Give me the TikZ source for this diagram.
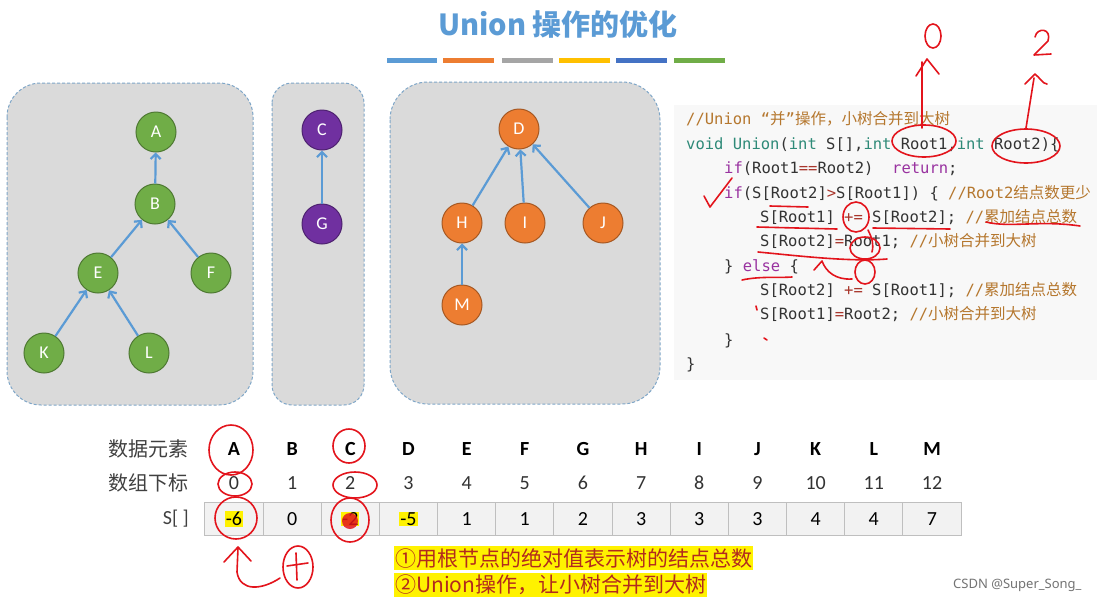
\documentclass[tikz,border=0pt]{standalone}
\usepackage{fontspec}
\usetikzlibrary{arrows.meta}
\setmainfont{Carlito}
\newfontfamily\cjk{Noto Sans CJK SC}
\newfontfamily\codefont{DejaVu Sans Mono}
\newfontfamily\markfont{Noto Sans}
\newcommand\zh[1]{{\cjk #1}}
\newcommand\hl[1]{{\setlength{\fboxsep}{1pt}\colorbox{yellow}{#1}}}

\definecolor{titleblue}{HTML}{5B9BD5}
\definecolor{barorange}{HTML}{ED7D31}
\definecolor{bargrey}{HTML}{A5A5A5}
\definecolor{baryellow}{HTML}{FFC000}
\definecolor{bardarkblue}{HTML}{4472C4}
\definecolor{bargreen}{HTML}{70AD47}
\definecolor{panelfill}{HTML}{DADADA}
\definecolor{paneledge}{HTML}{7EA6C8}
\definecolor{treegreen}{HTML}{70AD47}
\definecolor{treepurple}{HTML}{7030A0}
\definecolor{treeorange}{HTML}{ED7D31}
\definecolor{codebg}{HTML}{F8F8F8}
\definecolor{codetext}{HTML}{333333}
\definecolor{cmt}{HTML}{B5772E}
\definecolor{kw}{HTML}{9932A0}
\definecolor{ty}{HTML}{2E8A78}
\definecolor{op}{HTML}{A8352B}
\definecolor{cellfill}{HTML}{F2F2F2}
\definecolor{celledge}{HTML}{BFBFBF}
\definecolor{notered}{HTML}{B22A1E}
\definecolor{inkred}{HTML}{E3141C}

\begin{document}
\begin{tikzpicture}[x=1pt, y=-1pt, >=Stealth,
  panel/.style={draw=paneledge, fill=panelfill, line width=1pt, dash pattern=on 3pt off 2pt},
  tnode/.style={circle, draw=#1!70!black, fill=#1, line width=1pt, minimum size=40pt, inner sep=0pt, text=white, font=\fontsize{18}{18}\selectfont},
  link/.style={-{Straight Barb[length=5pt,width=10pt]}, line width=2.2pt, titleblue},
  code/.style={anchor=base west, inner sep=0pt, text=codetext, font=\codefont\fontsize{15.5}{15.5}\selectfont},
  rowlabel/.style={anchor=east, inner sep=0pt, text=black!75, font=\cjk\fontsize{20}{20}\selectfont},
  head/.style={inner sep=0pt, font=\bfseries\fontsize{20}{20}\selectfont},
  idx/.style={inner sep=0pt, text=black!80, font=\fontsize{20}{20}\selectfont},
  cell/.style={draw=celledge, fill=cellfill, line width=1pt, minimum width=58.2pt, minimum height=33pt, inner sep=0pt, font=\fontsize{20}{20}\selectfont},
  note/.style={anchor=west, fill=yellow, inner xsep=1pt, inner ysep=2pt, text=notered, font=\cjk\fontsize{21}{21}\selectfont},
  scribble/.style={draw=inkred, line width=1.6pt, line cap=round, line join=round}]
\useasboundingbox (0,0) rectangle (1097,603);
\fill[white] (0,0) rectangle (1097,603);

% title and colour bars
\node[text=titleblue, font=\cjk\bfseries\fontsize{29}{29}\selectfont] (title) at (558,24) {Union 操作的优化};
\fill[titleblue] (387,58) rectangle (437,63);
\fill[barorange] (443,58) rectangle (494,63);
\fill[bargrey] (502,58) rectangle (553,63);
\fill[baryellow] (559,58) rectangle (610,63);
\fill[bardarkblue] (616,58) rectangle (667,63);
\fill[bargreen] (674,58) rectangle (725,63);

% the three trees
\draw[panel, rounded corners=34pt] (7,83) rectangle (253,405);
\draw[panel, rounded corners=20pt] (272,83) rectangle (364,405);
\draw[panel, rounded corners=38pt] (390,82) rectangle (660,404);

\node[tnode=treegreen] (A) at (156,132) {A};
\node[tnode=treegreen] (B) at (155,204) {B};
\node[tnode=treegreen] (E) at (98,273) {E};
\node[tnode=treegreen] (F) at (211,273) {F};
\node[tnode=treegreen] (K) at (44,353) {K};
\node[tnode=treegreen] (L) at (149,353) {L};
\node[tnode=treepurple] (C) at (322,130) {C};
\node[tnode=treepurple] (G) at (322,224) {G};
\node[tnode=treeorange] (D) at (519,129) {D};
\node[tnode=treeorange] (H) at (462,223) {H};
\node[tnode=treeorange] (I) at (525,223) {I};
\node[tnode=treeorange] (J) at (603,223) {J};
\node[tnode=treeorange] (M) at (462,305) {M};

\draw[link] (B) -- (A);
\draw[link] (E) -- (B);
\draw[link] (F) -- (B);
\draw[link] (K) -- (E);
\draw[link] (L) -- (E);
\draw[link] (G) -- (C);
\draw[link] (H) -- (D);
\draw[link] (I) -- (D);
\draw[link] (J) -- (D);
\draw[link] (M) -- (H);

% code
\fill[codebg] (674,105) rectangle (1097,380);
\node[code] (c1) at (686,124) {\color{cmt}//Union “\zh{并}”\zh{操作，小树合并到大树}};
\node[code] (c2) at (686,149) {\textcolor{ty}{void} \textcolor{ty}{Union}(\textcolor{ty}{int} S[],\textcolor{ty}{int} Root1,\textcolor{ty}{int} Root2)\{};
\node[code] (c3) at (724,173) {\textcolor{kw}{if}(Root1\textcolor{op}{==}Root2)\ \ \textcolor{kw}{return};};
\node[code] (c4) at (724,198) {\textcolor{kw}{if}(S[Root2]\textcolor{op}{>}S[Root1]) \{ \textcolor{cmt}{//Root2\zh{结点数更少}}};
\node[code] (c5) at (760,222) {S[Root1] \textcolor{op}{+=} S[Root2]; \textcolor{cmt}{//\zh{累加结点总数}}};
\node[code] (c6) at (760,246) {S[Root2]\textcolor{op}{=}Root1; \textcolor{cmt}{//\zh{小树合并到大树}}};
\node[code] (c7) at (724,271) {\} \textcolor{kw}{else} \{};
\node[code] (c8) at (760,295) {S[Root2] \textcolor{op}{+=} S[Root1]; \textcolor{cmt}{//\zh{累加结点总数}}};
\node[code] (c9) at (760,319) {S[Root1]\textcolor{op}{=}Root2; \textcolor{cmt}{//\zh{小树合并到大树}}};
\node[code] (c10) at (724,345) {\}};
\node[code] (c11) at (686,369) {\}};

% table
\node[rowlabel] (lab1) at (189,449) {数据元素};
\node[rowlabel] (lab2) at (189,483) {数组下标};
\node[rowlabel, font=\fontsize{20}{20}\selectfont] (lab3) at (189,519) {S[ ]};
\node[head] (hA) at (234,449) {A}; \node[idx] (i0) at (234,483) {0}; \node[cell] (s0) at (234,519) {\hl{-6}};
\node[head] (hB) at (292.2,449) {B}; \node[idx] (i1) at (292.2,483) {1}; \node[cell] (s1) at (292.2,519) {0};
\node[head] (hC) at (350.3,449) {C}; \node[idx] (i2) at (350.3,483) {2}; \node[cell] (s2) at (350.3,519) {\hl{-2}};
\node[head] (hD) at (408.5,449) {D}; \node[idx] (i3) at (408.5,483) {3}; \node[cell] (s3) at (408.5,519) {\hl{-5}};
\node[head] (hE) at (466.7,449) {E}; \node[idx] (i4) at (466.7,483) {4}; \node[cell] (s4) at (466.7,519) {1};
\node[head] (hF) at (524.8,449) {F}; \node[idx] (i5) at (524.8,483) {5}; \node[cell] (s5) at (524.8,519) {1};
\node[head] (hG) at (583,449) {G}; \node[idx] (i6) at (583,483) {6}; \node[cell] (s6) at (583,519) {2};
\node[head] (hH) at (641.2,449) {H}; \node[idx] (i7) at (641.2,483) {7}; \node[cell] (s7) at (641.2,519) {3};
\node[head] (hI) at (699.3,449) {I}; \node[idx] (i8) at (699.3,483) {8}; \node[cell] (s8) at (699.3,519) {3};
\node[head] (hJ) at (757.5,449) {J}; \node[idx] (i9) at (757.5,483) {9}; \node[cell] (s9) at (757.5,519) {3};
\node[head] (hK) at (815.7,449) {K}; \node[idx] (i10) at (815.7,483) {10}; \node[cell] (s10) at (815.7,519) {4};
\node[head] (hL) at (873.8,449) {L}; \node[idx] (i11) at (873.8,483) {11}; \node[cell] (s11) at (873.8,519) {4};
\node[head] (hM) at (932,449) {M}; \node[idx] (i12) at (932,483) {12}; \node[cell] (s12) at (932,519) {7};

% notes
\node[note] (n1) at (394,558) {①用根节点的绝对值表示树的结点总数};
\node[note] (n2) at (394,585) {②Union操作，让小树合并到大树};
\node[anchor=east, text=black!55, font=\markfont\fontsize{13}{13}\selectfont] (mark) at (1085,585) {CSDN @Super\_Song\_};

% handwriting on the code
\draw[scribble] (924,141) ellipse [x radius=32, y radius=16];
\draw[scribble] (1026,146) ellipse [x radius=34, y radius=17];
\draw[scribble] (922,128) -- (922,62);
\draw[scribble] (916,76) -- (927,59) -- (939,74);
\draw[scribble] (933,36) ellipse [x radius=8, y radius=12];
\draw[scribble] (1026,128) -- (1034,78);
\draw[scribble] (1025,84) -- (1035,74) .. controls (1040,78) and (1043,84) .. (1047,84);
\draw[scribble] (1035,37) .. controls (1037,27) and (1052,28) .. (1048,41) -- (1034,55) -- (1051,54);
\draw[scribble] (704,196) -- (710,207) -- (732,178);
\draw[scribble] (770,206) -- (808,207);
\draw[scribble] (757,227) -- (837,229);
\draw[scribble] (873,228) -- (950,229);
\draw[scribble] (986,222) .. controls (1010,228) and (1040,220) .. (1080,226);
\draw[scribble] (856,217) ellipse [x radius=13, y radius=15];
\draw[scribble] (868,230) .. controls (872,238) and (874,244) .. (872,252);
\draw[scribble] (865,248) ellipse [x radius=15, y radius=11];
\draw[scribble] (758,252) .. controls (800,256) and (850,262) .. (887,259);
\draw[scribble] (865,272) ellipse [x radius=10, y radius=12];
\draw[scribble] (814,270) -- (822,261) .. controls (826,272) and (836,280) .. (852,279);
\draw[scribble] (742,280) .. controls (760,276) and (780,278) .. (792,277);
\draw[scribble] (756,306) -- (757,310);
\draw[scribble] (764,338) -- (767,340);

% handwriting on the table
\draw[scribble] (231,450) ellipse [x radius=22, y radius=25];
\draw[scribble] (235,484) ellipse [x radius=17, y radius=12];
\draw[scribble] (236,518) ellipse [x radius=21, y radius=21];
\draw[scribble] (349,446) ellipse [x radius=16, y radius=17];
\draw[scribble] (355,485) ellipse [x radius=22, y radius=13];
\draw[scribble] (350,520) ellipse [x radius=19, y radius=22];
\fill[inkred, opacity=0.85] (350,521) circle [radius=8];
\draw[scribble] (280,578) .. controls (262,590) and (240,592) .. (237,572) -- (238,548);
\draw[scribble] (224,562) -- (238,547) -- (251,561);
\draw[scribble] (298,567) ellipse [x radius=15, y radius=21];
\draw[scribble] (287,566) -- (308,563);
\draw[scribble] (296,553) -- (297,580);
\end{tikzpicture}
\end{document}
